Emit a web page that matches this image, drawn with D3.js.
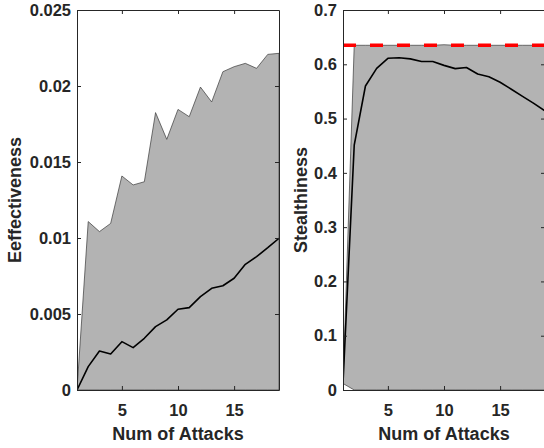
<!DOCTYPE html>
<html>
<head>
<meta charset="utf-8">
<script src="https://cdn.jsdelivr.net/npm/d3@7"></script>
<style>
  html, body { margin: 0; padding: 0; background: #fff; }
  svg { display: block; }
  .axis text { font-family: 'Liberation Sans', Arial, sans-serif; font-weight: bold; font-size: 16.5px; fill: #262626; }
  .axis path, .axis line { stroke: #262626; }
  .label { font-family: 'Liberation Sans', Arial, sans-serif; font-weight: bold; font-size: 18px; fill: #262626; }
</style>
</head>
<body>
<svg id="chart" width="544" height="448"></svg>
<script>
const attacks = [1, 2, 3, 4, 5, 6, 7, 8, 9, 10, 11, 12, 13, 14, 15, 16, 17, 18, 19];
const xTickValues = [5, 10, 15];

// left panel: effectiveness (mean line + shaded band)
const effMean = [0, 0.00154, 0.00257, 0.00237, 0.00318, 0.00279, 0.0034, 0.00417, 0.00461, 0.00531,
  0.00542, 0.00614, 0.00669, 0.00686, 0.00735, 0.00827, 0.00877, 0.00936, 0.00998];
const effUpper = [0, 0.01108, 0.01042, 0.01096, 0.01408, 0.01349, 0.0137, 0.01825, 0.01649, 0.01846,
  0.01798, 0.01993, 0.01895, 0.02094, 0.02127, 0.02149, 0.02116, 0.02208, 0.02215];
const effLower = [0, 0, 0, 0, 0, 0, 0, 0, 0, 0, 0, 0, 0, 0, 0, 0, 0, 0, 0];
const effTicks = [0, 0.005, 0.01, 0.015, 0.02, 0.025];
const effTickLabels = ['0', '0.005', '0.01', '0.015', '0.02', '0.025'];

// right panel: stealthiness
const stealthMean = [0.012, 0.451, 0.56, 0.5925, 0.611, 0.612, 0.61, 0.605, 0.605, 0.598,
  0.592, 0.594, 0.582, 0.577, 0.567, 0.554, 0.541, 0.528, 0.514];
const stealthUpper = [0.012, 0.635, 0.635, 0.635, 0.635, 0.635, 0.635, 0.635, 0.635, 0.636,
  0.635, 0.635, 0.635, 0.635, 0.635, 0.635, 0.635, 0.635, 0.635];
const stealthLower = [0.012, 0, 0, 0, 0, 0, 0, 0, 0, 0, 0, 0, 0, 0, 0, 0, 0, 0, 0];
const stealthBaseline = 0.635;
const stealthTicks = [0, 0.1, 0.2, 0.3, 0.4, 0.5, 0.6, 0.7];
const stealthTickLabels = ['0', '0.1', '0.2', '0.3', '0.4', '0.5', '0.6', '0.7'];

const svg = d3.select('#chart');
const TICK = 4;

function drawPanel(opts) {
  const { left, right, top, bottom, yMax, mean, upper, lower, yTicks, yTickLabels, yLabel, labelX, baseline } = opts;
  const width = right - left;
  const height = bottom - top;

  const xScale = d3.scaleLinear([1, 19], [0, width]);
  const yScale = d3.scaleLinear([0, yMax], [height, 0]);

  const g = svg.append('g').attr('transform', `translate(${left}, ${top})`);

  const clipId = 'clip-' + left;
  g.append('clipPath').attr('id', clipId)
    .append('rect').attr('width', width).attr('height', height);

  const plot = g.append('g').attr('clip-path', `url(#${clipId})`);

  /* shaded band */
  const band = attacks.map((a, i) => ({ x: a, lo: lower[i], hi: upper[i] }));
  plot.append('path')
    .attr('fill', '#b3b3b3')
    .attr('stroke', '#3a3a3a')
    .attr('stroke-width', 0.7)
    .attr('stroke-linejoin', 'round')
    .attr('d', d3.area()
      .x((d) => xScale(d.x))
      .y0((d) => yScale(d.lo))
      .y1((d) => yScale(d.hi))(band));

  /* mean line */
  plot.append('path')
    .attr('fill', 'none')
    .attr('stroke', '#000')
    .attr('stroke-width', 1.6)
    .attr('stroke-linejoin', 'round')
    .attr('d', d3.line()
      .x((d, i) => xScale(attacks[i]))
      .y((d) => yScale(d))(mean));

  /* dashed reference */
  if (baseline !== undefined) {
    plot.append('line')
      .attr('x1', 0)
      .attr('x2', width)
      .attr('y1', yScale(baseline))
      .attr('y2', yScale(baseline))
      .attr('stroke', '#ff0000')
      .attr('stroke-width', 3.5)
      .attr('stroke-dasharray', '13,14');
  }

  /* axes, MATLAB style box with inward ticks */
  g.append('g')
    .attr('class', 'axis')
    .attr('transform', `translate(0, ${height})`)
    .call(d3.axisBottom(xScale).tickValues(xTickValues).tickSizeInner(-TICK).tickSizeOuter(0).tickPadding(14));
  g.append('g')
    .attr('class', 'axis')
    .call(d3.axisTop(xScale).tickValues(xTickValues).tickSizeInner(-TICK).tickSizeOuter(0).tickFormat(''));
  g.append('g')
    .attr('class', 'axis')
    .call(d3.axisLeft(yScale).tickValues(yTicks).tickSizeInner(-TICK).tickSizeOuter(0).tickPadding(6)
      .tickFormat((d, i) => yTickLabels[i]));
  g.append('g')
    .attr('class', 'axis')
    .attr('transform', `translate(${width}, 0)`)
    .call(d3.axisRight(yScale).tickValues(yTicks).tickSizeInner(-TICK).tickSizeOuter(0).tickFormat(''));

  g.selectAll('.axis text').attr('font-size', null).attr('font-family', null);

  /* labels */
  svg.append('text')
    .attr('class', 'label')
    .attr('text-anchor', 'middle')
    .attr('x', left + width / 2)
    .attr('y', 440)
    .text('Num of Attacks');

  svg.append('text')
    .attr('class', 'label')
    .attr('text-anchor', 'middle')
    .attr('transform', `translate(${labelX}, ${top + height / 2}) rotate(-90)`)
    .text(yLabel);
}

drawPanel({
  left: 77, right: 279, top: 10, bottom: 390,
  yMax: 0.025, mean: effMean, upper: effUpper, lower: effLower,
  yTicks: effTicks, yTickLabels: effTickLabels,
  yLabel: 'Eeffectiveness', labelX: 21
});

drawPanel({
  left: 343, right: 545, top: 10, bottom: 390,
  yMax: 0.7, mean: stealthMean, upper: stealthUpper, lower: stealthLower,
  yTicks: stealthTicks, yTickLabels: stealthTickLabels,
  yLabel: 'Stealthiness', labelX: 307, baseline: stealthBaseline
});
</script>
</body>
</html>
